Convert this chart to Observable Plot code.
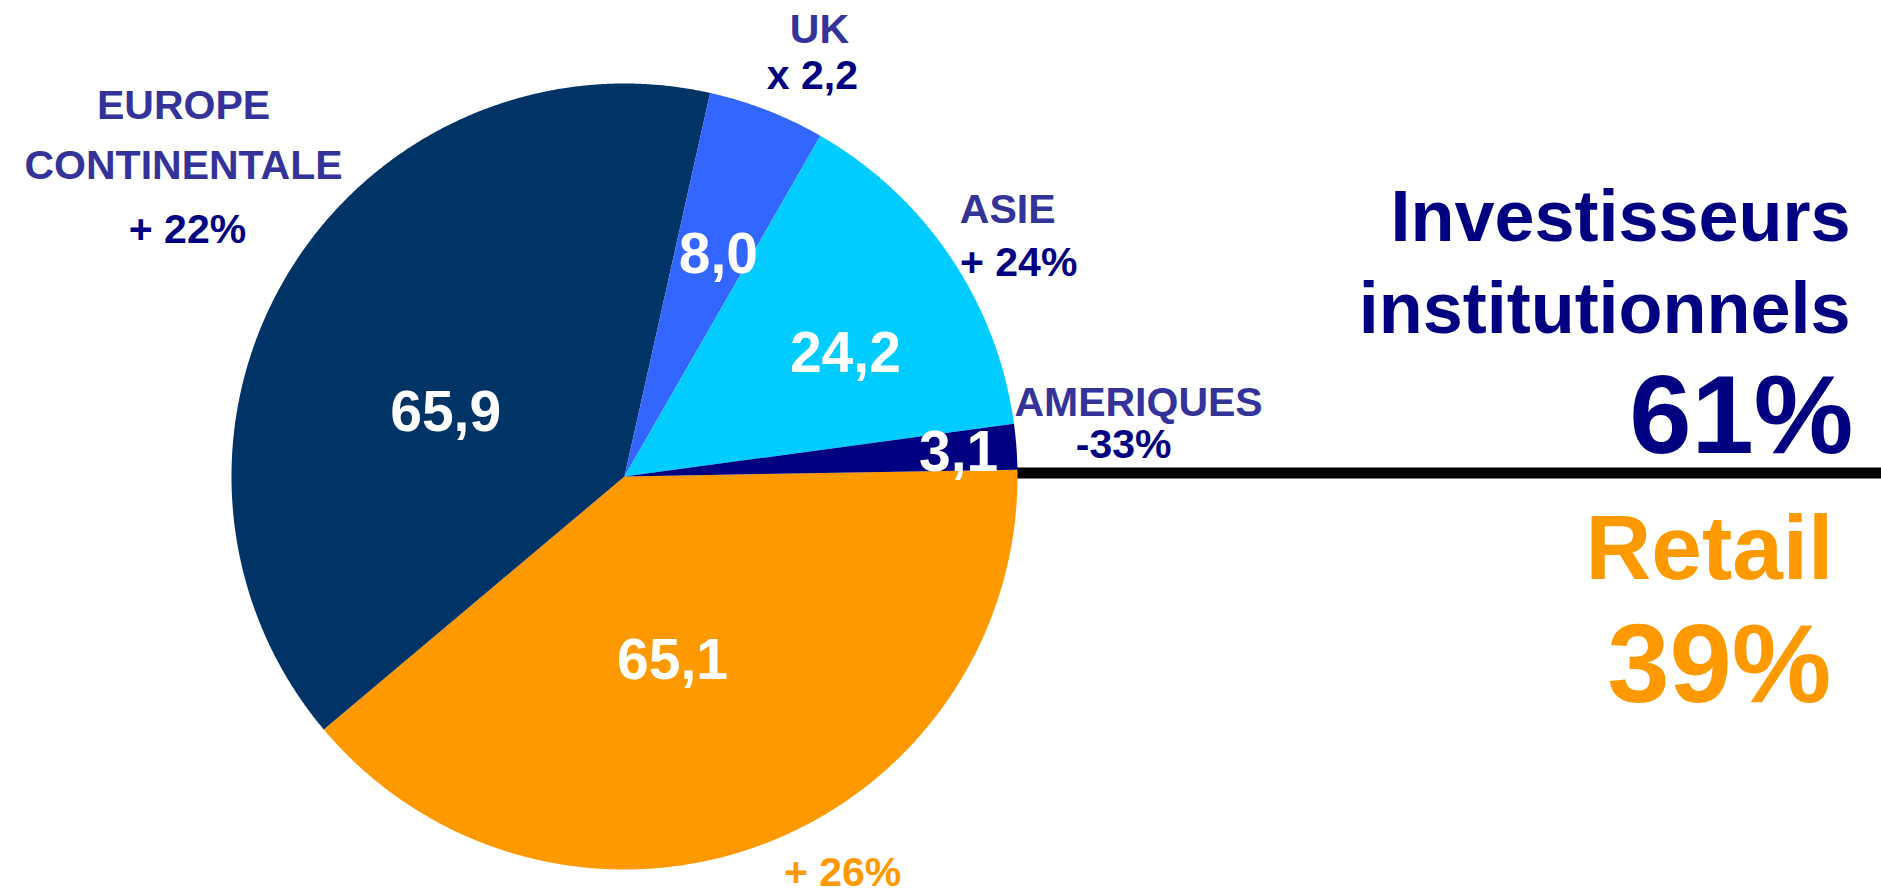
<!DOCTYPE html>
<html>
<head>
<meta charset="utf-8">
<script src="https://cdn.jsdelivr.net/npm/d3@7"></script>
<script src="https://cdn.jsdelivr.net/npm/@observablehq/plot@0.6"></script>
<style>
  html, body { margin: 0; padding: 0; background: #fff; }
  #chart svg { display: block; }
</style>
</head>
<body>
<div id="chart"></div>
<script>
// ---------- DATA ----------
const regions      = ["Retail", "EUROPE CONTINENTALE", "UK", "ASIE", "AMERIQUES"];
const values       = [65.1, 65.9, 8.0, 24.2, 3.1];
const valueLabels  = ["65,1", "65,9", "8,0", "24,2", "3,1"];
const regionLabels = ["", "EUROPE\nCONTINENTALE", "UK", "ASIE", "AMERIQUES"];
const growthLabels = ["+ 26%", "+ 22%", "x 2,2", "+ 24%", "-33%"];
const sliceColors  = ["#FF9900", "#003366", "#3366FF", "#00CCFF", "#000080"];
const segmentNames = ["Investisseurs\ninstitutionnels", "Retail"];

// ---------- LAYOUT (pie units: centre = 0,0 ; radius = 1) ----------
const W = 1881, H = 891, R = 393, CX = 624, CY = 476;
const startAngle = 89;                 // compass degrees, clockwise
const valuePos  = [[0.122, -0.514], [-0.455, 0.115], [0.239, 0.519], [0.562, 0.265], [0.850, 0.015]];
const namePos   = [null, [-1.122, 0.758], [0.496, 1.102], [0.975, 0.644], [1.308, 0.153]];
const growthPos = [[0.555, -1.043], [-1.112, 0.595], [0.478, 0.985], [1.003, 0.511], [1.270, 0.048]];
const segNamePos  = [[3.120, 0.364], [3.076, -0.262]];
const segSharePos = [[3.127, 0.059], [3.071, -0.575]];
const segColors = ["#000080", "#FF9900"];

const xDomain = [-CX / R, (W - CX) / R];
const yDomain = [-(H - CY) / R, CY / R];

// ---------- DERIVED ----------
const total = d3.sum(values);
const retailShare = Math.round(values[0] / total * 100);
const segmentShares = [100 - retailShare, retailShare];

const slicePts = [];
let acc = startAngle;
regions.forEach((r, i) => {
  const a0 = acc, a1 = acc + values[i] / total * 360;
  acc = a1;
  slicePts.push({region: r, u: 0, v: 0});
  const n = Math.max(2, Math.ceil((a1 - a0) / 0.25));
  for (let k = 0; k <= n; k++) {
    const t = (a0 + (a1 - a0) * k / n) * Math.PI / 180;
    slicePts.push({region: r, u: Math.sin(t), v: Math.cos(t)});
  }
});

const valueData  = regions.map((r, i) => ({label: valueLabels[i], u: valuePos[i][0], v: valuePos[i][1]}));
const nameData   = regions.map((r, i) => namePos[i] && ({label: regionLabels[i], u: namePos[i][0], v: namePos[i][1]})).filter(Boolean);
const growthData = regions.map((r, i) => ({label: growthLabels[i], u: growthPos[i][0], v: growthPos[i][1], color: i === 0 ? "#FF9900" : "#000080"}));
const segNameData  = segmentNames.map((s, i) => ({label: s, u: segNamePos[i][0], v: segNamePos[i][1], color: segColors[i]}));
const segShareData = segmentShares.map((s, i) => ({label: s + "%", u: segSharePos[i][0], v: segSharePos[i][1], color: segColors[i]}));

const font = "'Liberation Sans', Arial, Helvetica, sans-serif";

const chart = Plot.plot({
  width: W,
  height: H,
  margin: 0,
  style: {fontFamily: font, background: "#fff"},
  x: {domain: xDomain, range: [0, W], axis: null},
  y: {domain: yDomain, range: [H, 0], axis: null},
  color: {domain: regions, range: sliceColors},
  marks: [
    Plot.ruleY([0.009], {x1: 1, x2: xDomain[1], stroke: "#000", strokeWidth: 11}),
    Plot.line(slicePts, {x: "u", y: "v", z: "region", fill: "region", stroke: null}),
    Plot.text(valueData, {x: "u", y: "v", text: "label", fill: "#fff", fontSize: 57, fontWeight: "bold", textAnchor: "middle", lineAnchor: "bottom"}),
    Plot.text(nameData, {x: "u", y: "v", text: "label", fill: "#333399", fontSize: 41, fontWeight: "bold", textAnchor: "middle", lineAnchor: "bottom", lineHeight: 1.46}),
    Plot.text(growthData, {x: "u", y: "v", text: "label", fill: d => d.color, fontSize: 41, fontWeight: "bold", textAnchor: "middle", lineAnchor: "bottom"}),
    Plot.text(segNameData.slice(0, 1), {x: "u", y: "v", text: "label", fill: "color", fontSize: 72, fontWeight: "bold", textAnchor: "end", lineAnchor: "bottom", lineHeight: 1.29}),
    Plot.text(segNameData.slice(1), {x: "u", y: "v", text: "label", fill: "color", fontSize: 91, fontWeight: "bold", textAnchor: "end", lineAnchor: "bottom"}),
    Plot.text(segShareData, {x: "u", y: "v", text: "label", fill: "color", fontSize: 112, fontWeight: "bold", textAnchor: "end", lineAnchor: "bottom"})
  ]
});
document.getElementById("chart").appendChild(chart);
</script>
</body>
</html>
